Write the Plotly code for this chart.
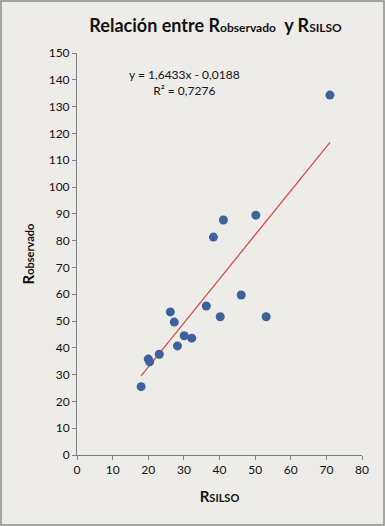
import plotly.graph_objects as go

# Data
r_silso = [18.0, 20.0, 20.4, 23.1, 26.2, 27.3, 28.2, 30.1, 32.2, 36.3, 40.2, 46.1, 53.1, 38.3, 41.1, 50.2, 71.0]
r_observado = [25.5, 35.8, 34.8, 37.6, 53.4, 49.6, 40.7, 44.5, 43.6, 55.6, 51.6, 59.7, 51.6, 81.3, 87.7, 89.5, 134.3]

slope = 1.6433
intercept = -0.0188
r2 = 0.7276
trend_x = [min(r_silso), max(r_silso)]
trend_y = [slope * v + intercept for v in trend_x]

x_ticks = list(range(0, 81, 10))
y_ticks = list(range(0, 151, 10))

bg = "#EEECE9"
font_family = "Lato, 'Open Sans', sans-serif"

fig = go.Figure()
fig.add_trace(go.Scatter(
    x=trend_x, y=trend_y, mode="lines",
    line=dict(color="#D9473F", width=1.2), hoverinfo="skip", showlegend=False))
fig.add_trace(go.Scatter(
    x=r_silso, y=r_observado, mode="markers",
    marker=dict(color="#3D619C", size=9, line=dict(width=0)), showlegend=False))

fig.add_annotation(
    x=30.2, y=139, xref="x", yref="y",
    text=f"y = {slope:.4f}x - {abs(intercept):.4f}".replace(".", ",") + "<br>" +
         f"R² = {r2:.4f}".replace(".", ","),
    showarrow=False, font=dict(family=font_family, size=12, color="#111111"), align="center")

fig.update_layout(
    width=385, height=526,
    margin=dict(l=77, r=23, t=53, b=71),
    paper_bgcolor=bg, plot_bgcolor=bg,
    font=dict(family=font_family, size=12, color="#111111"),
    title=dict(
        text="<b>Relación entre R<span style='font-size:12px'>observado</span>  y R<span style='font-size:12px'>SILSO</span></b>",
        x=0.56, xanchor="center", y=0.952, yanchor="middle",
        font=dict(family=font_family, size=18, color="#111111")),
    xaxis=dict(
        range=[0, 80], tickvals=x_ticks, showgrid=False, zeroline=False,
        showline=True, linecolor="#808080", linewidth=1,
        ticks="outside", ticklen=4, tickcolor="#808080",
        title=dict(text="<b>R<span style='font-size:11px'>SILSO</span></b>",
                   font=dict(family=font_family, size=15), standoff=15)),
    yaxis=dict(
        range=[0, 150], tickvals=y_ticks, showgrid=False, zeroline=False,
        showline=True, linecolor="#808080", linewidth=1,
        ticks="outside", ticklen=4, tickcolor="#808080",
        title=dict(text="<b>R<span style='font-size:11px'>observado</span></b>",
                   font=dict(family=font_family, size=15), standoff=10)),
)

# outer frame of the chart area
fig.add_shape(type="rect", xref="paper", yref="paper",
              x0=(1 - 77) / 285, x1=(384 - 77) / 285,
              y0=(455 - 525) / 402, y1=(455 - 1) / 402,
              line=dict(color="#8C8C8C", width=1.5), fillcolor="rgba(0,0,0,0)")

fig.write_html("out.html", config={"displayModeBar": False},
               post_script="document.body.style.margin='0';document.body.style.overflow='hidden';")
